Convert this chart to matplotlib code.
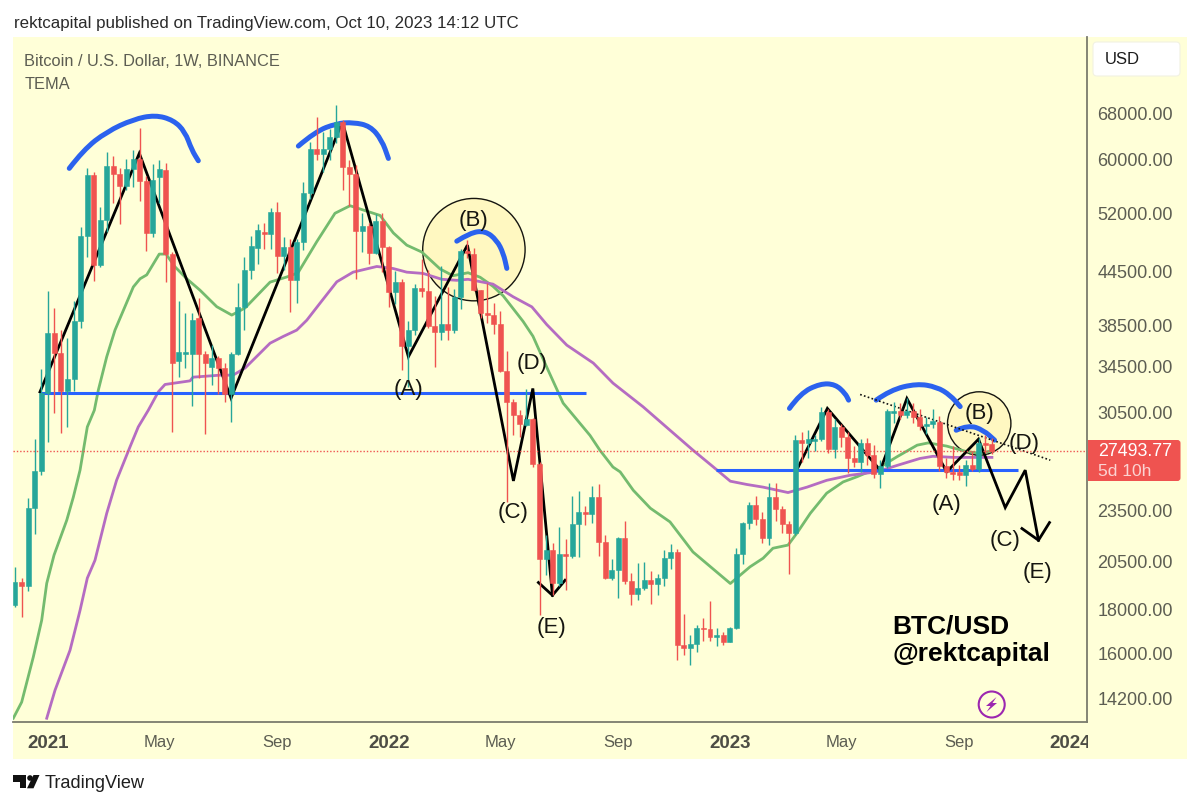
import matplotlib
matplotlib.use("Agg")
import matplotlib.pyplot as plt
from matplotlib.patches import Rectangle, FancyBboxPatch, Polygon, Circle, PathPatch
from matplotlib.path import Path
from matplotlib.ticker import FixedLocator, FixedFormatter, NullLocator
from matplotlib.transforms import IdentityTransform, Bbox

plt.rcParams['font.family'] = ['Liberation Sans', 'DejaVu Sans']

# weekly candles (first week = Nov 30 2020)
week_open = [
    18220, 19370, 19180, 23610, 26080, 32130, 37760, 35790, 32300, 33360,
    38990, 48900, 57600, 45260, 51060, 59000, 57750, 55930, 58490, 60070,
    56730, 49350, 57240, 58400, 46620, 35000, 35700, 35700, 39300, 35700,
    34500, 35300, 34350, 32040, 35730, 40490, 44660, 47400, 49500, 49200,
    52200, 46400, 47500, 43480, 48100, 54840, 61700, 60900, 61700, 63820,
    66440, 58900, 57750, 49620, 50250, 46780, 51000, 47460, 42100, 43220,
    36440, 38030, 42530, 42200, 38450, 37860, 38700, 38030, 41510, 46990,
    46620, 42340, 39830, 39600, 38650, 34080, 31390, 30350, 29500, 29970,
    26610, 20640, 21110, 19340, 20920, 20800, 22620, 23390, 23270, 24340,
    21580, 19620, 20010, 21830, 19440, 18790, 19100, 19470, 19270, 19600,
    20690, 20980, 16360, 16250, 16420, 17160, 17100, 16730, 16830, 16530,
    17160, 20920, 22730, 23810, 22970, 21800, 24340, 23590, 22620, 22110,
    28330, 28100, 28300, 28450, 30570, 27710, 29360, 28540, 27050, 26740,
    28130, 27210, 25910, 26420, 30500, 30650, 30300, 30600, 30150, 29440,
    29600, 29750, 26420, 26030, 26000, 25800, 26500, 26200, 28110, 28010,
]
week_high = [
    20160, 19600, 24300, 28400, 34270, 42220, 40340, 38030, 37200, 41100,
    50100, 58700, 58100, 52900, 61300, 60600, 58700, 60120, 61600, 65300,
    57500, 59320, 59900, 59500, 46870, 41100, 39810, 39800, 41440, 36000,
    36600, 35500, 34800, 35900, 43170, 46280, 48960, 50500, 50700, 52700,
    53540, 48800, 48500, 48500, 56570, 62970, 67200, 64600, 65100, 69470,
    66700, 60000, 59200, 52000, 50600, 51900, 52000, 47700, 44500, 43600,
    39000, 43000, 46000, 44700, 41700, 45200, 42700, 42500, 47300, 48400,
    47370, 42400, 43130, 40890, 40060, 35960, 31600, 30730, 32480, 30100,
    26700, 21970, 21520, 22460, 21730, 24380, 24730, 23750, 25070, 25230,
    21970, 20640, 21860, 22830, 19840, 20390, 20450, 19950, 19800, 21110,
    21480, 21190, 17810, 16810, 17290, 17630, 18410, 17130, 16950, 17200,
    21260, 22750, 24020, 24400, 23400, 25250, 25250, 23750, 22800, 28700,
    29000, 29150, 28700, 30950, 30800, 30000, 29600, 29000, 27900, 28400,
    28500, 28000, 26900, 30800, 31400, 31300, 31700, 31300, 30800, 30150,
    30800, 30200, 27000, 27900, 26550, 26900, 27500, 28500, 28700, 28500,
]
week_low = [
    18110, 17640, 18950, 22030, 25800, 28180, 30460, 28870, 29330, 32300,
    38230, 46280, 43370, 45000, 49450, 53480, 50520, 55330, 55800, 53770,
    47040, 48830, 53400, 43280, 28950, 33560, 34400, 31040, 33500, 28800,
    32830, 32040, 31390, 29730, 35600, 38030, 43600, 45400, 47300, 47300,
    44270, 44700, 39950, 40850, 47100, 54000, 59900, 58000, 60000, 62700,
    55300, 53000, 43600, 46900, 45400, 46600, 44460, 40490, 40800, 34170,
    32680, 37500, 41600, 38230, 34490, 37000, 37000, 37700, 40300, 46100,
    42200, 39300, 38750, 37630, 34000, 24020, 28720, 28600, 29400, 26400,
    17730, 19740, 18700, 19200, 18970, 20700, 20750, 22560, 22700, 20800,
    19520, 19500, 18570, 19300, 18220, 18500, 18980, 18280, 18700, 19200,
    20100, 15720, 15930, 15510, 16080, 16550, 16540, 16330, 16390, 16500,
    17100, 20360, 22370, 22560, 21520, 21380, 22830, 22080, 19800, 22000,
    26700, 27000, 27500, 28300, 27400, 27050, 27800, 25950, 26360, 26050,
    26550, 25580, 24930, 26300, 29700, 30000, 30100, 29700, 29100, 28800,
    29250, 26060, 25580, 25500, 25500, 25050, 26100, 26000, 27400, 27300,
]
week_close = [
    19370, 19180, 23610, 26080, 32130, 37760, 35790, 32300, 33360, 38990,
    48900, 57600, 45260, 51060, 59000, 57750, 55930, 58490, 60070, 56730,
    49350, 56830, 58490, 46620, 34840, 35830, 35900, 39060, 35640, 34800,
    35350, 34350, 32040, 35730, 40490, 44660, 47630, 49710, 49200, 52200,
    46400, 47540, 43480, 48100, 54840, 61700, 61000, 61700, 63820, 66440,
    58900, 57750, 49620, 50250, 46780, 50930, 47460, 42100, 43220, 36440,
    38030, 42530, 42200, 38450, 37860, 38650, 38030, 41510, 46990, 46700,
    42340, 39830, 39600, 38650, 34080, 31390, 30350, 29550, 29970, 26610,
    20640, 21110, 19340, 20920, 20800, 22620, 23390, 23270, 24340, 21580,
    19620, 20010, 21830, 19440, 18790, 19100, 19470, 19270, 19600, 20690,
    20980, 16360, 16250, 16420, 17160, 17100, 16730, 16830, 16530, 17160,
    20920, 22730, 23810, 22970, 21800, 24340, 23590, 22620, 22110, 28330,
    28150, 28400, 28450, 30570, 27710, 29360, 28540, 27050, 26740, 28130,
    27210, 25910, 26420, 30650, 30650, 30300, 30600, 30150, 29440, 29600,
    29800, 26420, 26030, 25850, 25800, 26500, 26200, 28110, 27980, 27493.77,
]
last_price = 27493.77

# TEMA lines, read at the bends
green_week = [
    -0.26, 1.02, 2.79, 4.07, 4.84, 5.95, 7.89, 8.89, 9.92, 11.03, 12.1, 12.71,
    13.99, 15.25, 18.05, 19.07, 20.09, 22.0, 23.04, 24.4, 26.2, 28.2, 30.77,
    33.06, 35.09, 38.9, 41.45, 43.17, 46.03, 48.8, 51.1, 54.66, 55.68, 57.7,
    59.75, 62.04, 64.84, 66.8, 69.1, 70.94, 72.9, 74.45, 77.5, 79.0, 81.1,
    83.6, 87.7, 89.2, 91.2, 92.3, 94.3, 96.9, 99.9, 103.4, 109.1, 112.1,
    114.1, 115.6, 117.9, 119.25, 121.3, 123.8, 126.3, 128.4, 132, 134.5,
    137.6, 139.3, 142.1, 145.2, 147.2, 149,
]
green_price = [
    13465, 14060, 15860, 17500, 19320, 20830, 22870, 24320, 26150, 29360, 30700,
    32400, 35420, 38040, 42700, 43640, 44100, 46620, 46620, 45060, 43640, 42340,
    40500, 39600, 40360, 43250, 43850, 44350, 48200, 52000, 53060, 52000, 51700,
    49340, 47750, 46880, 44800, 44000, 44350, 43820, 42770, 41700, 38930, 37420,
    34450, 31290, 28700, 27590, 26370, 26030, 24780, 23620, 22770, 21010, 19310,
    20190, 20660, 21220, 21400, 22090, 23300, 24590, 25340, 25690, 26380, 27100,
    27960, 28130, 27890, 27470, 27370, 27540,
]
purple_week = [
    4.84, 6.1, 8.39, 9.92, 11.03, 12.2, 13.99, 15.5, 17.54, 18.8, 20.33, 21.86,
    22.88, 26.7, 27.15, 31.27, 33.26, 35.09, 38.9, 40.88, 42.97, 44.5, 46.53,
    49.08, 51.56, 55.18, 57.66, 59.75, 62.24, 65.1, 67.4, 69.1, 72.9, 75.97,
    78.83, 81.1, 84.16, 88.2, 91.2, 95.8, 99.9, 103.4, 106.5, 109.1, 111.6,
    114.1, 117.9, 120.8, 123.8, 127.4, 131.4, 134.5, 138, 140, 143.1, 149,
]
purple_price = [
    13465, 14510, 16150, 17970, 19590, 20550, 23300, 25460, 27830, 29360, 30700,
    32250, 32890, 33210, 33540, 33720, 33720, 34370, 36730, 37390, 38040, 39060,
    40890, 43290, 44420, 45100, 44860, 44420, 44270, 43580, 43460, 43580, 43020,
    41590, 40480, 38610, 36540, 34830, 33010, 30980, 29100, 27590, 26380, 25390,
    25170, 24990, 24630, 24990, 25450, 25800, 26030, 26480, 26980, 27140, 27060,
    27060,
]

# hand drawn annotations, as (week, price)
zig_left_week = [3.81, 18.96, 32.95, 49.93, 60.0, 69.0, 76.02, 78.98, 81.97]
zig_left_price = [32240, 61060, 31710, 66440, 35420, 47750, 25410, 32540, 18710]
e_arrow_left_week = [79.83, 81.97, 83.9]
e_arrow_left_price = [19360, 18710, 19480]
zig_right_week = [119.35, 123.9, 131.96, 136.03, 142.1, 146.95, 151.03, 154.08, 156.1]
zig_right_price = [26270, 30850, 26150, 31680, 26030, 28410, 23660, 26150, 21680]
e_arrow_right_week = [153.58, 156.1, 157.78]
e_arrow_right_price = [22370, 21680, 22730]
trend_week = [128.9, 157.9]
trend_price = [32020, 26860]
support_left_week = [3.8, 87.1]
support_right_week = [106.9, 153]
support_left_price = 32140
support_right_price = 26150

arcs = [
    ([8.28, 10.42, 13.99, 18.05, 21.36, 24.15, 25.93, 26.96, 27.96],
     [58640, 61590, 64680, 66860, 67640, 66730, 64680, 61590, 59850]),
    ([43.22, 45.77, 49.08, 51.61, 54.16, 55.94, 56.95],
     [62250, 64680, 66150, 66320, 65680, 63260, 60220]),
    ([67.38, 69.41, 71.7, 73.48, 74.49, 75.01],
     [48260, 49360, 49620, 48390, 46710, 44870]),
    ([118.12, 119.76, 122.81, 125.1, 126.63, 127.14],
     [30850, 32110, 32970, 32910, 32110, 31540]),
    ([131.35, 133.48, 137.55, 140.6, 142.64, 144.16],
     [31540, 32400, 32970, 32670, 31960, 31000]),
    ([143.55, 145.43, 147.72, 149.4],
     [29100, 29520, 29100, 28340]),
]
circle_week = [69.99, 147.06]
circle_price = [47180, 29630]
circle_size = [5435, 2083]

wave_labels = ['(A)', '(B)', '(D)', '(C)', '(E)', '(A)', '(B)', '(D)', '(C)', '(E)']
wave_week = [59.95, 69.87, 78.87, 75.97, 81.9, 142.0, 147.06, 153.9, 151.0, 156.0]
wave_price = [32410, 50940, 34750, 23370, 17180, 23870, 30470, 28050, 21690, 19910]

price_ticks = [68000, 60000, 52000, 44500, 38500, 34500, 30500, 23500, 20500, 18000, 16000, 14200]
date_ticks = [5, 22, 40, 57, 74, 92, 109, 126, 144, 161]
date_labels = ['2021', 'May', 'Sep', '2022', 'May', 'Sep', '2023', 'May', 'Sep', '2024']

W, H = 1200, 806
UP, DOWN = '#26a69a', '#ef5350'
PANEL = '#ffffd8'
AXIS = '#7b7c6d'
TEXT = '#5c5d52'
BLUE = '#2962ff'


def fx(x):
    return x / W


def fy(y):
    return 1 - y / H


def px_poly(points, **kw):
    return Polygon([(x, H - y) for x, y in points], transform=IdentityTransform(), **kw)


def brush_path(wk, pr):
    # curve through the read points used as control points, so the stroke has no corners
    verts = [(wk[0], pr[0])]
    codes = [Path.MOVETO]
    for i in range(1, len(wk) - 1):
        verts += [(wk[i], pr[i]), ((wk[i] + wk[i + 1]) / 2, (pr[i] + pr[i + 1]) / 2)]
        codes += [Path.CURVE3, Path.CURVE3]
    verts.append((wk[-1], pr[-1]))
    codes.append(Path.LINETO)
    return Path(verts, codes)


fig = plt.figure(figsize=(W / 100, H / 100), dpi=100, facecolor='white')
fig.add_artist(Rectangle((13, H - 759), 1174, 722, transform=IdentityTransform(),
                         facecolor=PANEL, edgecolor='none', zorder=-1))

ax = fig.add_axes([fx(13), fy(722), (1087 - 13) / W, (722 - 37) / H])
ax.set_facecolor('none')
ax.set_yscale('log')
ax.set_xlim(-0.305, 163.5)
ax.set_ylim(13330, 83340)

# everything sits under the candles on this chart
ax.scatter(circle_week, circle_price, s=circle_size, facecolor=(1, 0.9, 0.5, 0.25),
           edgecolor='#151510', linewidth=1.0, zorder=1.2)
ax.plot(green_week, green_price, color='#74bb6e', lw=2.0, zorder=1.4)
ax.plot(purple_week, purple_price, color='#b56cc2', lw=2.0, zorder=1.4)

ax.plot(support_left_week, [support_left_price] * 2, color=BLUE, lw=2.2, zorder=1.6,
        solid_capstyle='butt')
ax.plot(support_right_week, [support_right_price] * 2, color=BLUE, lw=2.2, zorder=1.6,
        solid_capstyle='butt')

for wk, pr in [(zig_left_week, zig_left_price), (zig_right_week, zig_right_price),
               (e_arrow_left_week, e_arrow_left_price), (e_arrow_right_week, e_arrow_right_price)]:
    ax.plot(wk, pr, color='black', lw=2.0, zorder=1.7, solid_joinstyle='miter')

for wk, pr in arcs:
    ax.add_patch(PathPatch(brush_path(wk, pr), fill=False, edgecolor='#2b62ee', lw=3.6, zorder=1.8,
                           capstyle='round', joinstyle='round'))
ax.plot(trend_week, trend_price, color='#111111', lw=1.2, ls=(0, (1, 1.4)), zorder=1.9)

# candles
for i in range(len(week_open)):
    o, h, l, c = week_open[i], week_high[i], week_low[i], week_close[i]
    col = UP if c >= o else DOWN
    ax.plot([i, i], [l, h], color=col, lw=1.0, zorder=2, solid_capstyle='butt')
    ax.bar(i, abs(c - o), bottom=min(o, c), width=0.76, color=col, linewidth=0.4,
           edgecolor=col, zorder=3)

ax.axhline(last_price, color=DOWN, lw=1, ls=(0, (1.0, 1.4)), zorder=2.5)

for lab, wk, pr in zip(wave_labels, wave_week, wave_price):
    ax.text(wk, pr, lab, fontsize=16, color='#151510', ha='center', va='center', zorder=9)

# axes
for side in ['top', 'left']:
    ax.spines[side].set_visible(False)
for side in ['bottom', 'right']:
    ax.spines[side].set_color(AXIS)
    ax.spines[side].set_linewidth(1.3)

ax.yaxis.tick_right()
ax.yaxis.set_major_locator(FixedLocator(price_ticks))
ax.yaxis.set_major_formatter(FixedFormatter(['%d.00' % p for p in price_ticks]))
ax.yaxis.set_minor_locator(NullLocator())
ax.tick_params(axis='y', which='both', length=0, pad=7.6, labelsize=13, labelcolor=TEXT)

ax.set_xticks(date_ticks)
ax.set_xticklabels(date_labels)
ax.tick_params(axis='x', length=0, pad=9, labelsize=12, labelcolor=TEXT)
for lab, name in zip(ax.get_xticklabels(), date_labels):
    if name.isdigit():
        lab.set_fontweight('bold')
        lab.set_fontsize(13.5)
        lab.set_color('#4d4d45')
    if name == '2024':
        lab.set_clip_box(Bbox([[0, 0], [1088, H]]))
        lab.set_clip_on(True)

# price tag and currency button
fig.add_artist(FancyBboxPatch((1088, H - 481), 92.5, 41, boxstyle='round,pad=0,rounding_size=3',
                              transform=IdentityTransform(), facecolor=DOWN, edgecolor='none'))
fig.add_artist(Rectangle((1088, H - 481), 6, 41, transform=IdentityTransform(),
                         facecolor=DOWN, edgecolor='none'))
fig.text(fx(1098), fy(451), '27493.77', color='white', fontsize=12.8, va='center')
fig.text(fx(1098), fy(471), '5d 10h', color='#fbd3d2', fontsize=12.6, va='center')
fig.add_artist(FancyBboxPatch((1093, H - 76), 87, 34, boxstyle='round,pad=0,rounding_size=4',
                              transform=IdentityTransform(), facecolor='white', edgecolor='#f2f2e2', lw=0.8))
fig.text(fx(1105), fy(60), 'USD', color='#1c1c1c', fontsize=12, va='center')

# header and footer
fig.text(fx(14), fy(23.5), 'rektcapital published on TradingView.com, Oct 10, 2023 14:12 UTC',
         color='#2a2a2a', fontsize=12.18, va='center')
fig.text(fx(24.5), fy(61), 'Bitcoin / U.S. Dollar, 1W, BINANCE', color=TEXT, fontsize=11.8, va='center')
fig.text(fx(24.5), fy(84.5), 'TEMA', color=TEXT, fontsize=11.8, va='center')
fig.text(fx(892.5), fy(627), 'BTC/USD', color='black', fontsize=19, fontweight='bold', va='center')
fig.text(fx(892.5), fy(654.5), '@rektcapital', color='black', fontsize=19, fontweight='bold', va='center')
fig.text(fx(45), fy(784), 'TradingView', color='#1f1f1f', fontsize=13.1, va='center')

# TradingView mark
fig.add_artist(px_poly([(13.3, 775), (26, 775), (26, 788.3), (20, 788.3), (20, 781.5), (13.3, 781.5)],
                       facecolor='#111111', edgecolor='none'))
fig.add_artist(Circle((30, H - 778), 2.8, transform=IdentityTransform(), facecolor='#111111', edgecolor='none'))
fig.add_artist(px_poly([(33.5, 775), (39.5, 775), (33.5, 788.3), (27, 788.3)], facecolor='#111111', edgecolor='none'))

# lightning badge
fig.add_artist(Circle((991.7, H - 704.5), 13, transform=IdentityTransform(), facecolor='none',
                      edgecolor='#9c27b0', lw=1.5))
fig.add_artist(px_poly([(996.5, 697), (986, 706), (990.5, 706), (986.5, 712), (997, 703), (992.5, 703)],
                       facecolor='#9c27b0', edgecolor='none'))

fig.savefig('out.png', dpi=100)
